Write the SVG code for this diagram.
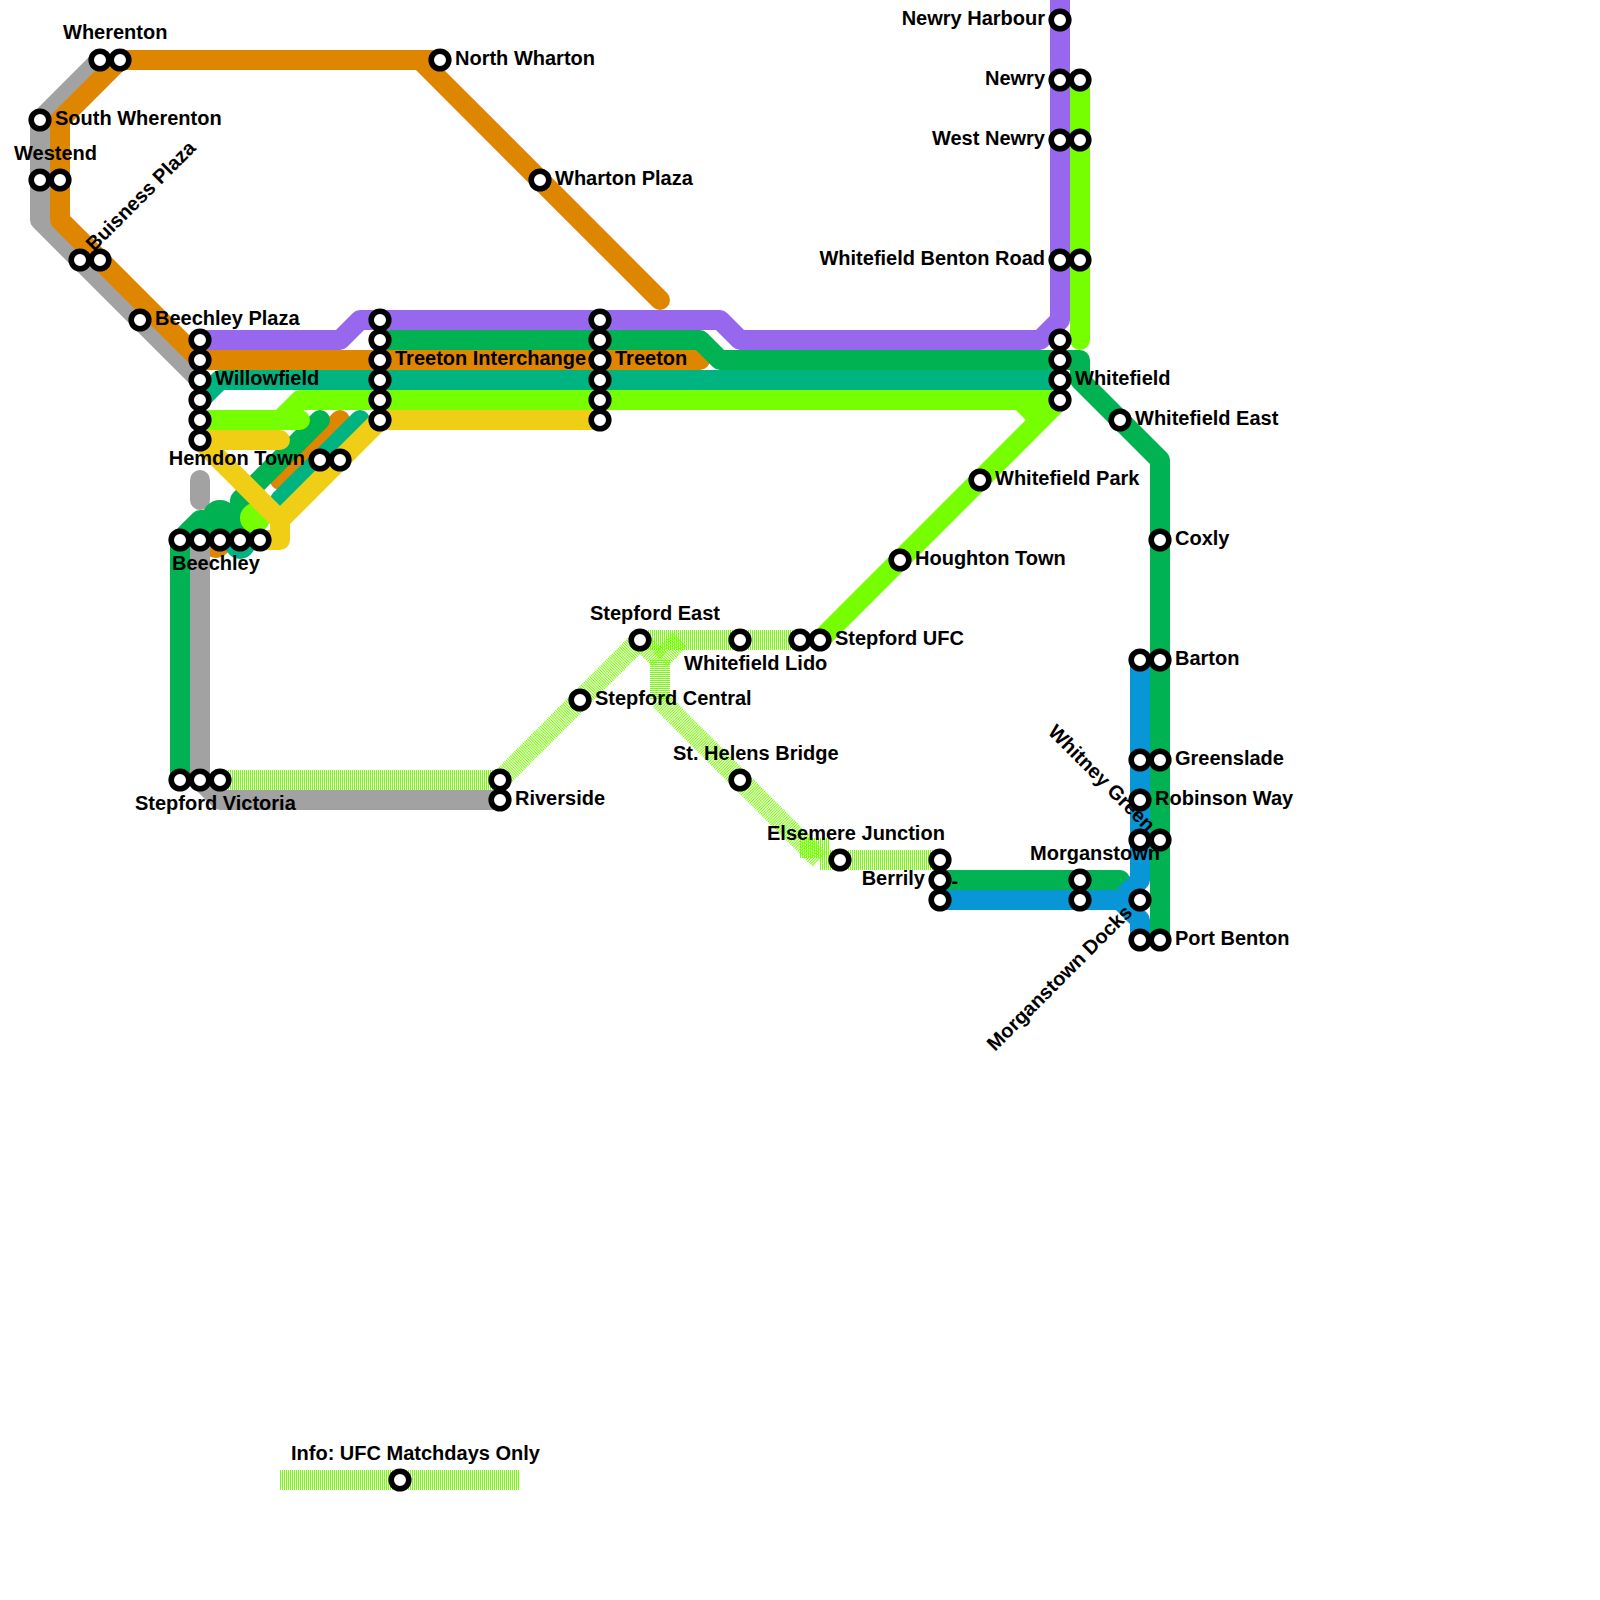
<svg xmlns="http://www.w3.org/2000/svg" width="1600" height="1600" viewBox="0 0 1600 1600">
<style>
.l{fill:none;stroke-width:20;stroke-linecap:round;stroke-linejoin:round}
.d{fill:none;stroke-width:20;stroke:#76ff00;stroke-dasharray:1 1;stroke-linejoin:miter}
.gy{stroke:#a2a2a2}.or{stroke:#df8600}.pu{stroke:#9768ee}.gr{stroke:#00b251}.te{stroke:#00b482}.li{stroke:#76ff00}.ye{stroke:#f0ce15}.bl{stroke:#0896d7}
.s circle{fill:#fff;stroke:#000;stroke-width:5.6}
text{font-family:"Liberation Sans",Arial,sans-serif;font-weight:bold;font-size:20px;fill:#000}
.e{text-anchor:end}
</style>
<rect width="1600" height="1600" fill="#fff"/>
<g id="connectors">
<circle cx="216" cy="543" r="15" fill="#df8600"/>
<circle cx="240" cy="544" r="15" fill="#00b482"/>
<path class="l gy" d="M100,60L40,120L40,220L200,380"/>
<path class="l gy" d="M200,480L200,500"/>
<path class="l gy" d="M200,540L200,780L220,800L500,800"/>
<path class="l or" d="M440,60L420,60"/>
<path class="l or" d="M660,300L420,60L120,60L60,120L60,220L200,360L700,360"/>
<path class="l or" d="M340,420L280,480"/>
<path class="l pu" d="M1060,0L1060,320L1040,340L740,340L720,320L360,320L340,340L200,340"/>
<path class="l gr" d="M380,340L700,340L720,360L1080,360L1080,380L1160,460L1160,940"/>
<path class="l gr" d="M180,780L180,540L200,520L220,520L240,520L240,500L320,420"/>
<circle cx="220" cy="518" r="18" fill="#00b251"/>
<path class="l gr" d="M190,530L250,530"/>
<path class="l gr" d="M940,880L1120,880"/>
<path class="l te" d="M1060,380L220,380L200,400"/>
<path class="l te" d="M360,420L280,500"/>
<path class="l li" d="M1080,80L1080,340"/>
<path class="l li" d="M820,640L1060,400M1040,420L1020,400M1060,400L300,400L280,420L200,420M280,420L300,420"/>
<circle cx="255" cy="518" r="15" fill="#76ff00"/>
<path class="l ye" d="M280,440L200,440L280,520L280,540L260,540M280,520L380,420L600,420"/>
<path class="l bl" d="M940,900L1120,900L1140,880L1140,660M1120,900L1140,920L1140,940"/>
<path class="d" d="M220,780L500,780L640,640L800,640"/>
<path class="d" d="M640,640L660,660"/>
<path class="d" d="M680,640L660,660"/>
<path class="d" d="M660,660L660,700L820,860"/>
<path class="d" d="M800,848L830,848"/>
<path class="d" d="M820,860L940,860"/>
<path class="d" d="M280,1480L520,1480"/>
</g>
<g id="stations" class="s">
<g id="wherenton"><circle cx="100" cy="60" r="8.8"/><circle cx="120" cy="60" r="8.8"/><text x="63" y="39">Wherenton</text></g>
<g id="south-wherenton"><circle cx="40" cy="120" r="8.8"/><text x="55" y="125">South Wherenton</text></g>
<g id="westend"><circle cx="40" cy="180" r="8.8"/><circle cx="60" cy="180" r="8.8"/><text x="14" y="160">Westend</text></g>
<g id="buisness-plaza"><circle cx="80" cy="260" r="8.8"/><circle cx="100" cy="260" r="8.8"/><text transform="translate(94,252) rotate(-45)">Buisness Plaza</text></g>
<g id="beechley-plaza"><circle cx="140" cy="320" r="8.8"/><text x="155" y="325">Beechley Plaza</text></g>
<g id="willowfield"><circle cx="200" cy="340" r="8.8"/><circle cx="200" cy="360" r="8.8"/><circle cx="200" cy="380" r="8.8"/><circle cx="200" cy="400" r="8.8"/><circle cx="200" cy="420" r="8.8"/><circle cx="200" cy="440" r="8.8"/><text x="215" y="385">Willowfield</text></g>
<g id="treeton-interchange"><circle cx="380" cy="320" r="8.8"/><circle cx="380" cy="340" r="8.8"/><circle cx="380" cy="360" r="8.8"/><circle cx="380" cy="380" r="8.8"/><circle cx="380" cy="400" r="8.8"/><circle cx="380" cy="420" r="8.8"/><text x="395" y="365">Treeton Interchange</text></g>
<g id="treeton"><circle cx="600" cy="320" r="8.8"/><circle cx="600" cy="340" r="8.8"/><circle cx="600" cy="360" r="8.8"/><circle cx="600" cy="380" r="8.8"/><circle cx="600" cy="400" r="8.8"/><circle cx="600" cy="420" r="8.8"/><text x="615" y="365">Treeton</text></g>
<g id="north-wharton"><circle cx="440" cy="60" r="8.8"/><text x="455" y="65">North Wharton</text></g>
<g id="wharton-plaza"><circle cx="540" cy="180" r="8.8"/><text x="555" y="185">Wharton Plaza</text></g>
<g id="hemdon-town"><circle cx="320" cy="460" r="8.8"/><circle cx="340" cy="460" r="8.8"/><text class="e" x="305" y="465">Hemdon Town</text></g>
<g id="beechley"><circle cx="180" cy="540" r="8.8"/><circle cx="200" cy="540" r="8.8"/><circle cx="220" cy="540" r="8.8"/><circle cx="240" cy="540" r="8.8"/><circle cx="260" cy="540" r="8.8"/><text x="172" y="570">Beechley</text></g>
<g id="stepford-victoria"><circle cx="180" cy="780" r="8.8"/><circle cx="200" cy="780" r="8.8"/><circle cx="220" cy="780" r="8.8"/><text x="135" y="810">Stepford Victoria</text></g>
<g id="riverside"><circle cx="500" cy="780" r="8.8"/><circle cx="500" cy="800" r="8.8"/><text x="515" y="805">Riverside</text></g>
<g id="stepford-central"><circle cx="580" cy="700" r="8.8"/><text x="595" y="705">Stepford Central</text></g>
<g id="stepford-east"><circle cx="640" cy="640" r="8.8"/><text x="590" y="620">Stepford East</text></g>
<g id="whitefield-lido"><circle cx="740" cy="640" r="8.8"/><text x="684" y="670">Whitefield Lido</text></g>
<g id="stepford-ufc"><circle cx="800" cy="640" r="8.8"/><circle cx="820" cy="640" r="8.8"/><text x="835" y="645">Stepford UFC</text></g>
<g id="st-helens"><circle cx="740" cy="780" r="8.8"/><text x="673" y="760">St. Helens Bridge</text></g>
<g id="elsemere"><circle cx="840" cy="860" r="8.8"/><text x="767" y="840">Elsemere Junction</text></g>
<g id="berrily"><circle cx="940" cy="860" r="8.8"/><circle cx="940" cy="880" r="8.8"/><circle cx="940" cy="900" r="8.8"/><text class="e" x="925" y="885">Berrily</text><text x="951.5" y="888">-</text></g>
<g id="morganstown"><circle cx="1080" cy="880" r="8.8"/><circle cx="1080" cy="900" r="8.8"/><text x="1030" y="860">Morganstown</text></g>
<g id="houghton"><circle cx="900" cy="560" r="8.8"/><text x="915" y="565">Houghton Town</text></g>
<g id="whitefield-park"><circle cx="980" cy="480" r="8.8"/><text x="995" y="485">Whitefield Park</text></g>
<g id="whitefield"><circle cx="1060" cy="340" r="8.8"/><circle cx="1060" cy="360" r="8.8"/><circle cx="1060" cy="380" r="8.8"/><circle cx="1060" cy="400" r="8.8"/><text x="1075" y="385">Whitefield</text></g>
<g id="whitefield-east"><circle cx="1120" cy="420" r="8.8"/><text x="1135" y="425">Whitefield East</text></g>
<g id="coxly"><circle cx="1160" cy="540" r="8.8"/><text x="1175" y="545">Coxly</text></g>
<g id="barton"><circle cx="1140" cy="660" r="8.8"/><circle cx="1160" cy="660" r="8.8"/><text x="1175" y="665">Barton</text></g>
<g id="greenslade"><circle cx="1140" cy="760" r="8.8"/><circle cx="1160" cy="760" r="8.8"/><text x="1175" y="765">Greenslade</text></g>
<g id="robinson-way"><circle cx="1140" cy="800" r="8.8"/><text x="1155" y="805">Robinson Way</text></g>
<g id="whitney-green"><circle cx="1140" cy="840" r="8.8"/><circle cx="1160" cy="840" r="8.8"/><text transform="translate(1047,733) rotate(45)">Whitney Green</text></g>
<g id="morganstown-docks"><circle cx="1140" cy="900" r="8.8"/><text transform="translate(995,1052) rotate(-45)">Morganstown Docks</text></g>
<g id="port-benton"><circle cx="1140" cy="940" r="8.8"/><circle cx="1160" cy="940" r="8.8"/><text x="1175" y="945">Port Benton</text></g>
<g id="newry-harbour"><circle cx="1060" cy="20" r="8.8"/><text class="e" x="1045" y="25">Newry Harbour</text></g>
<g id="newry"><circle cx="1060" cy="80" r="8.8"/><circle cx="1080" cy="80" r="8.8"/><text class="e" x="1045" y="85">Newry</text></g>
<g id="west-newry"><circle cx="1060" cy="140" r="8.8"/><circle cx="1080" cy="140" r="8.8"/><text class="e" x="1045" y="145">West Newry</text></g>
<g id="whitefield-benton"><circle cx="1060" cy="260" r="8.8"/><circle cx="1080" cy="260" r="8.8"/><text class="e" x="1045" y="265">Whitefield Benton Road</text></g>
<g id="info"><circle cx="400" cy="1480" r="8.8"/><text x="291" y="1460">Info: UFC Matchdays Only</text></g>
</g>
</svg>
